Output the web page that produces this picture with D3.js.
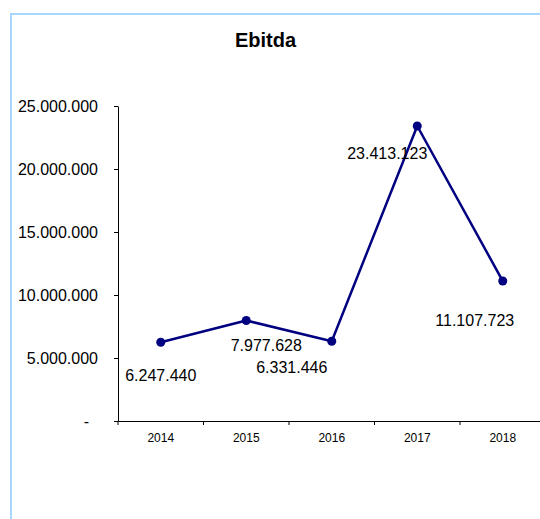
<!DOCTYPE html>
<html>
<head>
<meta charset="utf-8">
<script src="https://cdn.jsdelivr.net/npm/d3@7"></script>
<style>
  body { margin: 0; background: #fff; }
  svg { display: block; font-family: "Liberation Sans", Arial, sans-serif; }
</style>
</head>
<body>
<svg id="drawing_region"></svg>
<script>
const years = ['2014', '2015', '2016', '2017', '2018'];
const ebitda = [6247440, 7977628, 6331446, 23413123, 11107723];
const yTicks = [0, 5000000, 10000000, 15000000, 20000000, 25000000];
// where each value label sits relative to its point (dx, baseline dy)
const labelOffsets = [[0, 39], [20, 31], [-40, 32], [-30, 33], [-28, 45]];

class LineChart {

    constructor( config, data ) {
        this.config = {
            parent: config.parent,
            width: config.width || 540,
            height: config.height || 519,
            margin: config.margin || {top:106, right:-5.5, bottom:98, left:118}
        }
        this.data = data;
        this.init();
    }

    init() {
        let self = this;

        self.svg = d3.select( self.config.parent )
            .attr('width', self.config.width)
            .attr('height', self.config.height);

        // light blue frame of the chart area
        self.svg.append('rect')
            .attr('x', 11)
            .attr('y', 14)
            .attr('width', 700)
            .attr('height', 700)
            .attr('fill', 'none')
            .attr('stroke', '#a9d6fc')
            .attr('stroke-width', 2);

        self.svg.append('text')
            .text('Ebitda')
            .attr('x', 265.5)
            .attr('y', 47)
            .attr('text-anchor', 'middle')
            .attr('font-size', '20px')
            .attr('font-weight', 'bold')
            .attr('fill', '#000');

        self.chart = self.svg.append('g')
            .attr('transform', `translate(${self.config.margin.left}, ${self.config.margin.top})`);

        self.inner_width = self.config.width - self.config.margin.left - self.config.margin.right;
        self.inner_height = self.config.height - self.config.margin.top - self.config.margin.bottom;
    }

    update() {
        let self = this;

        self.xscale = d3.scaleBand()
            .domain(years)
            .range([0, self.inner_width]);

        self.yscale = d3.scaleLinear()
            .domain([0, 25000000])
            .range([self.inner_height, 0]);

        self.xaxis = d3.axisBottom( self.xscale )
            .tickSize(0)
            .tickSizeOuter(0);

        self.yaxis = d3.axisLeft( self.yscale )
            .tickValues(yTicks)
            .tickSize(4)
            .tickPadding(16)
            .tickSizeOuter(0)
            .tickFormat(d => d === 0 ? '-\u00a0\u00a0' : d3.format(',')(d).replace(/,/g, '.'));

        self.xaxis_group = self.chart.append('g')
            .attr('transform', `translate(0, ${self.inner_height})`);

        self.yaxis_group = self.chart.append('g');

        self.render();
    }

    render() {
        let self = this;
        const cx = (d, i) => self.xscale(years[i]) + self.xscale.bandwidth() / 2;

        self.xaxis_group.call( self.xaxis );
        self.xaxis_group.attr('font-size', null);
        self.xaxis_group.select('.domain').attr('stroke', '#000');
        self.xaxis_group.selectAll('.tick text')
            .attr('y', 12)
            .attr('dy', '0.71em')
            .attr('font-size', '12px')
            .attr('fill', '#000');

        // category boundary ticks
        self.xaxis_group.selectAll('line.sep')
            .data(years)
            .join('line')
            .attr('class', 'sep')
            .attr('x1', d => self.xscale(d))
            .attr('x2', d => self.xscale(d))
            .attr('y1', 0)
            .attr('y2', 4)
            .attr('stroke', '#000');

        self.yaxis_group.call( self.yaxis );
        self.yaxis_group.attr('font-size', null);
        self.yaxis_group.select('.domain').attr('stroke', '#000');
        self.yaxis_group.selectAll('.tick line').attr('stroke', '#000');
        self.yaxis_group.selectAll('.tick text')
            .attr('font-size', '16px')
            .attr('fill', '#000')
            .style('white-space', 'pre');

        const line = d3.line()
            .x((d, i) => cx(d, i))
            .y(d => self.yscale(d));

        self.chart.append('path')
            .datum(self.data)
            .attr('d', line)
            .attr('fill', 'none')
            .attr('stroke', '#000080')
            .attr('stroke-width', 2.5)
            .attr('stroke-linejoin', 'round');

        self.chart.selectAll('circle')
            .data(self.data)
            .join('circle')
            .attr('cx', cx)
            .attr('cy', d => self.yscale(d))
            .attr('r', 4.5)
            .attr('fill', '#000080');

        self.chart.selectAll('text.value')
            .data(self.data)
            .join('text')
            .attr('class', 'value')
            .text(d => d3.format(',')(d).replace(/,/g, '.'))
            .attr('x', (d, i) => cx(d, i) + labelOffsets[i][0])
            .attr('y', (d, i) => self.yscale(d) + labelOffsets[i][1])
            .attr('text-anchor', 'middle')
            .attr('font-size', '16px')
            .attr('fill', '#000');
    }
}

let chart = new LineChart({ parent: '#drawing_region' }, ebitda);
chart.update();
</script>
</body>
</html>
